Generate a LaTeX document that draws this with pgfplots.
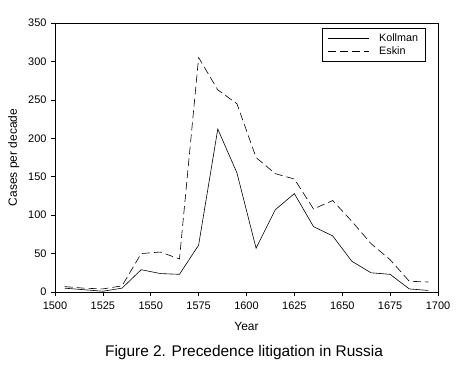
\documentclass[border=0pt]{standalone}
\usepackage{pgfplots}
\pgfplotsset{compat=1.18}
\usepackage{fontspec}
\setmainfont{Liberation Sans}
\begin{document}
\begin{tikzpicture}
\begin{axis}[
  scale only axis,
  width=383bp, height=269bp,
  xmin=1500, xmax=1700, ymin=0, ymax=350,
  xtick={1500,1525,...,1700},
  ytick={0,50,...,350},
  xticklabel style={/pgf/number format/1000 sep={}, yshift=-2bp},
  yticklabel style={xshift=-1bp},
  /pgf/number format/assume math mode=true,
  tick align=outside,
  tick pos=left,
  major tick length=4bp,
  tick style={black, line width=0.6pt},
  axis line style={line width=0.6pt},
  ticklabel style={font=\fontsize{11}{13}\selectfont},
  xlabel={Year}, ylabel={Cases per decade},
  label style={font=\fontsize{12}{14}\selectfont},
  xlabel style={yshift=-6bp},
  ylabel style={yshift=2bp},
  legend style={at={(0.967,0.98)}, anchor=north east, draw=black, line width=0.6pt,
    font=\fontsize{10.8}{13}\selectfont, inner xsep=5bp, inner ysep=3bp, row sep=0bp},
  legend cell align=left,
  legend image code/.code={\draw[#1] (0cm,0cm) -- (1.45cm,0cm);},
]
\addplot[black, line width=0.6pt] coordinates {
(1505,5) (1515,3) (1525,1) (1535,5) (1545,29) (1555,24) (1565,23) (1575,61)
(1585,212) (1595,155) (1605,57) (1615,107) (1625,128) (1635,85) (1645,73)
(1655,40) (1665,25) (1675,23) (1685,4) (1695,2)};
\addlegendentry{\hspace{8bp}Kollman}
\addplot[black, line width=0.6pt, dash pattern=on 8bp off 4bp] coordinates {
(1505,7) (1515,5) (1525,4) (1535,8) (1545,50) (1555,52) (1565,43) (1575,305)
(1585,263) (1595,245) (1605,175) (1615,154) (1625,147) (1635,108) (1645,119)
(1655,92) (1665,63) (1675,42) (1685,14) (1695,13)};
\addlegendentry{\hspace{8bp}Eskin}
\end{axis}
\node[font=\fontsize{15.5}{18}\selectfont, anchor=center] at (189bp,-61bp) {Figure 2. Precedence litigation in Russia};
\path (-55bp,-75bp) rectangle ++(460bp,367bp);
\end{tikzpicture}
\end{document}
